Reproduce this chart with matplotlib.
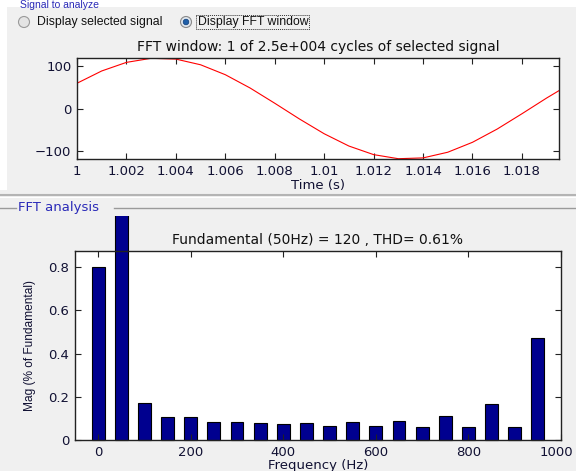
import numpy as np
import matplotlib
matplotlib.use('Agg')
import matplotlib.pyplot as plt
from matplotlib.patches import Rectangle, Circle
from matplotlib.transforms import Bbox, ScaledTranslation

plt.rcParams['font.family'] = ['DejaVu Sans']

# signal in the FFT window (every 1 ms)
t = [1.000, 1.001, 1.002, 1.003, 1.004, 1.005, 1.006, 1.007, 1.008, 1.009, 1.010,
     1.011, 1.012, 1.013, 1.014, 1.015, 1.016, 1.017, 1.018, 1.019, 1.020]
signal = [60.0, 89.2, 109.6, 119.3, 117.4, 103.9, 80.3, 48.8, 12.5, -24.9, -60.0,
          -89.2, -109.6, -119.3, -117.4, -103.9, -80.3, -48.8, -12.5, 24.9, 60.0]

# harmonic spectrum (% of fundamental, as drawn on the 0..0.8 scale)
freq = [0, 50, 100, 150, 200, 250, 300, 350, 400, 450, 500,
        550, 600, 650, 700, 750, 800, 850, 900, 950]
mag = [0.80, 100.0, 0.17, 0.107, 0.107, 0.082, 0.082, 0.077, 0.074, 0.077, 0.063,
       0.082, 0.063, 0.09, 0.059, 0.111, 0.059, 0.165, 0.059, 0.47]

top_title = 'FFT window: 1 of 2.5e+004 cycles of selected signal'
fft_title = 'Fundamental (50Hz) = 120 , THD= 0.61%'

W, H = 576, 471
fig = plt.figure(figsize=(W / 100, H / 100), dpi=100)
fig.patch.set_facecolor('#f0f0f0')

def ax_rect(l, t_, r, b):
    return [l / W, (H - b) / H, (r - l) / W, (b - t_) / H]

gui_font = ['Liberation Sans', 'DejaVu Sans']

# GUI decoration layer in pixel coordinates
ui = fig.add_axes([0, 0, 1, 1], zorder=-1)
ui.set_xlim(0, W)
ui.set_ylim(H, 0)
ui.axis('off')
ui.add_patch(Rectangle((0, 0), W, 7, color='white', lw=0))
ui.add_patch(Rectangle((0, 0), 7, 190, color='white', lw=0))
ui.text(20, 0.5, 'Signal to analyze', color='#2a2ab8', fontsize=7.5, va='top',
        family=gui_font)
# radio buttons
ui.add_patch(Circle((24, 22), 5.5, facecolor='#e4e4e4', edgecolor='#9a9a9a', lw=0.8))
ui.text(37, 22, 'Display selected signal', fontsize=8.8, va='center', color='#111111',
        family=gui_font)
ui.add_patch(Circle((186, 22), 5.5, facecolor='#dfe6ee', edgecolor='#8a8a8a', lw=0.8))
ui.add_patch(Circle((186, 22), 2.8, facecolor='#1f5fa8', edgecolor='#0d3d78', lw=0.5))
ui.text(198, 22, 'Display FFT window', fontsize=8.8, va='center', color='#111111',
        family=gui_font)
ui.add_patch(Rectangle((196, 15), 113, 14, fill=False, ls=(0, (1, 1)), lw=0.7, ec='#333333'))
# separators
ui.plot([0, W], [194.5, 194.5], color='#b4b4b4', lw=1.5)
ui.plot([0, W], [196.5, 196.5], color='white', lw=0.8)
ui.plot([0, 16], [208, 208], color='#9a9a9a', lw=1)
ui.plot([114, W], [208, 208], color='#9a9a9a', lw=1)
ui.text(18, 207, 'FFT analysis', color='#2a2ab8', fontsize=9.5, va='center')

tick_kw = dict(direction='in', length=4, width=0.8, top=True, right=True,
               labelsize=9.5, colors='#222222', labelcolor='#111133', pad=4)

# upper plot: signal window
ax1 = fig.add_axes(ax_rect(77, 58, 559, 159))
ax1.plot(t, signal, color='red', lw=0.8)
ax1.set_xlim(1.0, 1.0195)
ax1.set_ylim(-120, 120)
ax1.set_xticks([1.0, 1.002, 1.004, 1.006, 1.008, 1.01, 1.012, 1.014, 1.016, 1.018])
ax1.set_xticklabels(['1', '1.002', '1.004', '1.006', '1.008', '1.01', '1.012', '1.014', '1.016', '1.018'])
ax1.set_yticks([-100, 0, 100])
ax1.tick_params(**tick_kw)
ax1.set_xlabel('Time (s)', fontsize=9.5, color='#111133', labelpad=1)
ax1.set_title(top_title, fontsize=10, color='#111111', pad=5)
for s in ax1.spines.values():
    s.set_linewidth(1.0)
    s.set_color('#222222')

# lower plot: spectrum
ax2 = fig.add_axes(ax_rect(75, 251, 561, 440))
bars = ax2.bar(freq, mag, width=28, color='#00008f', edgecolor='black', lw=0.8)
clip = Bbox([[0, 0], [W, H - 216]])
for b in bars:
    b.set_clip_on(True)
    b.set_clip_box(clip)
ax2.set_xlim(-50, 1000)
ax2.set_ylim(0, 0.875)
ax2.set_xticks([0, 200, 400, 600, 800, 1000])
ax2.set_yticks([0, 0.2, 0.4, 0.6, 0.8])
ax2.set_yticklabels(['0', '0.2', '0.4', '0.6', '0.8'])
ax2.tick_params(**tick_kw)
# keep the last tick label inside the window
last = ax2.get_xticklabels()[-1]
last.set_transform(last.get_transform() + ScaledTranslation(-5 / 100, 0, fig.dpi_scale_trans))
ax2.set_xlabel('Frequency (Hz)', fontsize=9.5, color='#111133', labelpad=0)
ax2.set_ylabel('Mag (% of Fundamental)', fontsize=8.6, color='#111133', labelpad=9,
               family=['Liberation Sans'])
ax2.set_title(fft_title, fontsize=10, color='#111111', pad=5)
for s in ax2.spines.values():
    s.set_linewidth(1.0)
    s.set_color('#222222')

fig.savefig('out.png', dpi=100, facecolor=fig.get_facecolor())
